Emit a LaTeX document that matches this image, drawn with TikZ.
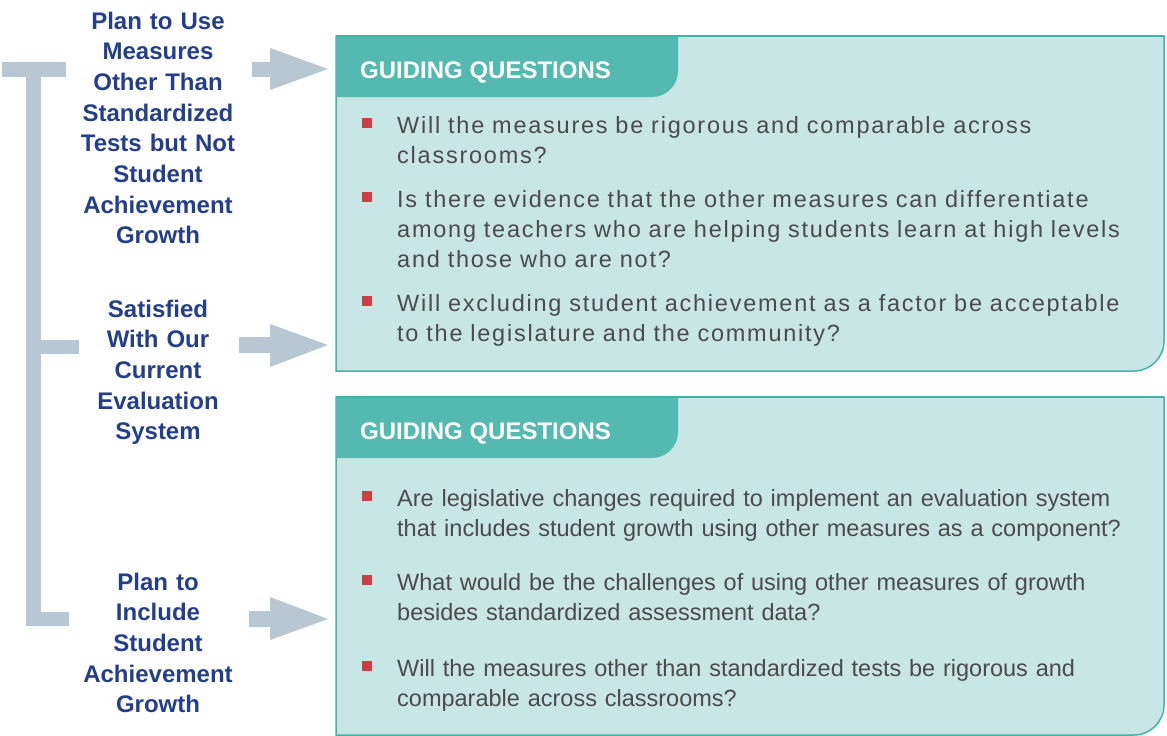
\documentclass[tikz,border=0pt]{standalone}
\usepackage{fontspec}
\setmainfont{Liberation Sans}
\newfontfamily\bodyfontA[LetterSpace=7.5]{Liberation Sans}
\newfontfamily\bodyfontB{Liberation Sans}
\newfontfamily\headfont{Liberation Sans}
\definecolor{navy}{HTML}{233E8B}
\definecolor{bracketgray}{HTML}{B7C7D3}
\definecolor{boxfill}{HTML}{C8E6E3}
\definecolor{headfill}{HTML}{53B9B1}
\definecolor{boxline}{HTML}{3FB4AA}
\definecolor{bulletred}{HTML}{CD3F46}
\definecolor{bodytext}{HTML}{4B4B4B}
\tikzset{
  label/.style={text width=220pt, align=center, anchor=base, inner sep=0pt,
    text=navy, font=\fontsize{24}{30.7}\selectfont\bfseries},
  headtext/.style={anchor=base west, inner sep=0pt, text=white,
    font=\headfont\fontsize{24}{28}\selectfont\bfseries},
  itemA/.style={text width=760pt, align=left, anchor=base west, inner sep=0pt,
    text=bodytext, font=\bodyfontA\fontsize{23.5}{30}\selectfont},
  itemB/.style={text width=760pt, align=left, anchor=base west, inner sep=0pt,
    text=bodytext, font=\bodyfontB\fontsize{23.5}{30}\selectfont},
  bullet/.style={fill=bulletred, minimum size=10pt, inner sep=0pt, draw=none},
  qbox/.style={fill=boxfill, draw=boxline, line width=1.5pt},
  tab/.style={fill=headfill},
  blockarrow/.style={fill=bracketgray, draw=none},
}
\begin{document}
\begin{tikzpicture}[x=1pt,y=-1pt]
\useasboundingbox (0,0) rectangle (1167,736);

% bracket
\fill[bracketgray] (26,62) rectangle (41,626);
\fill[bracketgray] (2,62) rectangle (66,77);
\fill[bracketgray] (41,340) rectangle (79,354);
\fill[bracketgray] (41,612) rectangle (69,626);

% labels
\node[label] (l1) at (158,29) {Plan to Use\\Measures\\Other Than\\Standardized\\Tests but Not\\Student\\Achievement\\Growth};
\node[label] (l2) at (158,317) {Satisfied\\With Our\\Current\\Evaluation\\System};
\node[label] (l3) at (158,590) {Plan to\\Include\\Student\\Achievement\\Growth};

% block arrows
\fill[blockarrow] (252,62) -- (270,62) -- (270,48) -- (328,69) -- (270,90) -- (270,77) -- (252,77) -- cycle;
\fill[blockarrow] (239,337) -- (270,337) -- (270,324) -- (328,345) -- (270,367) -- (270,353) -- (239,353) -- cycle;
\fill[blockarrow] (249,611) -- (270,611) -- (270,597) -- (328,619) -- (270,640) -- (270,627) -- (249,627) -- cycle;

% box 1
\path[qbox] (336,36) -- (1164,36) [rounded corners=30pt] -- (1164,371) [sharp corners] -- (336,371) -- cycle;
\fill[tab] (336,36) -- (678,36) [rounded corners=26pt] -- (678,97) [sharp corners] -- (336,97) -- cycle;
\draw[boxline, line width=1.5pt] (336,36) -- (1164,36);
\node[headtext] (h1) at (360,78) {GUIDING QUESTIONS};

\node[bullet] (b11) at (367,123) {};
\node[itemA] (q11) at (397,133) {Will the measures be rigorous and comparable across\\classrooms?};
\node[bullet] (b12) at (367,197) {};
\node[itemA] (q12) at (397,207) {Is there evidence that the other measures can differentiate\\among teachers who are helping students learn at high levels\\and those who are not?};
\node[bullet] (b13) at (367,301) {};
\node[itemA] (q13) at (397,311) {Will excluding student achievement as a factor be acceptable\\to the legislature and the community?};

% box 2
\path[qbox] (336,397) -- (1164,397) [rounded corners=30pt] -- (1164,735) [sharp corners] -- (336,735) -- cycle;
\fill[tab] (336,397) -- (678,397) [rounded corners=26pt] -- (678,458) [sharp corners] -- (336,458) -- cycle;
\draw[boxline, line width=1.5pt] (336,397) -- (1164,397);
\node[headtext] (h2) at (360,439) {GUIDING QUESTIONS};

\node[bullet] (b21) at (367,496) {};
\node[itemB] (q21) at (397,506) {Are legislative changes required to implement an evaluation system\\that includes student growth using other measures as a component?};
\node[bullet] (b22) at (367,580) {};
\node[itemB] (q22) at (397,590) {What would be the challenges of using other measures of growth\\besides standardized assessment data?};
\node[bullet] (b23) at (367,666) {};
\node[itemB] (q23) at (397,676) {Will the measures other than standardized tests be rigorous and\\comparable across classrooms?};
\end{tikzpicture}
\end{document}
